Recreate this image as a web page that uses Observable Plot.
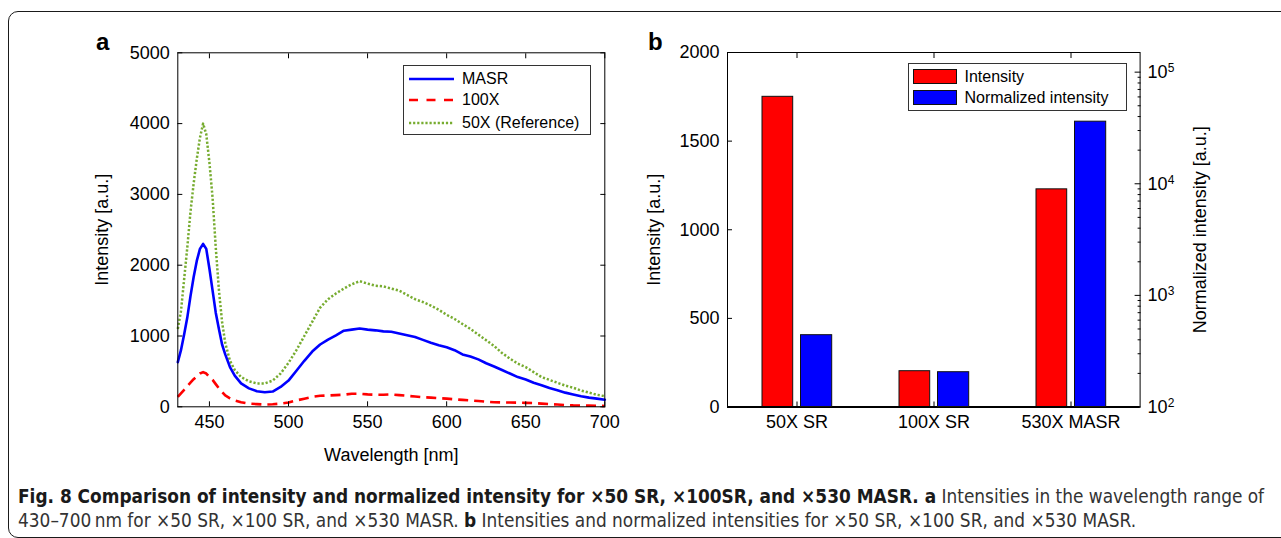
<!DOCTYPE html>
<html>
<head>
<meta charset="utf-8">
<script src="https://cdn.jsdelivr.net/npm/d3@7"></script>
<script src="https://cdn.jsdelivr.net/npm/@observablehq/plot@0.6"></script>
<style>
html,body{margin:0;padding:0;background:#fff;}
#root{position:relative;width:1281px;height:538px;overflow:hidden;font-family:"Liberation Sans",Arial,Helvetica,sans-serif;background:#fff;}
.layer{position:absolute;left:0;top:0;}
#border{position:absolute;left:8px;top:10.5px;width:1320px;height:527px;border:1.6px solid #1a1a1a;border-radius:10px;box-sizing:border-box;}
.panel-label{position:absolute;font-weight:bold;font-size:24px;line-height:1;color:#000;}
.legend{position:absolute;border:1.3px solid #333;background:#fff;box-sizing:border-box;}
.legend .row{position:absolute;left:0;height:20px;display:flex;align-items:center;font-size:16px;color:#000;white-space:nowrap;}
#caption{position:absolute;left:18px;top:484px;width:1260px;font-family:"Liberation Sans Narrow","DejaVu Sans Condensed",sans-serif;font-size:18px;line-height:24px;color:#333;white-space:nowrap;}
#caption b{color:#1a1a1a;}
</style>
</head>
<body>
<div id="root">
  <div id="border"></div>
  <div class="panel-label" style="left:96px;top:30px;">a</div>
  <div class="panel-label" style="left:648px;top:30px;">b</div>
  <div id="plotA" class="layer"></div>
  <div id="plotB1" class="layer"></div>
  <div id="plotB2" class="layer"></div>
  <div id="legendA" class="legend" style="left:403px;top:65px;width:188px;height:70px;"></div>
  <div id="legendB" class="legend" style="left:908px;top:62.5px;width:219px;height:48px;"></div>
  <div id="caption"><span id="cap1"><b>Fig. 8 Comparison of intensity and normalized intensity for ×50 SR, ×100SR, and ×530 MASR. a</b> Intensities in the wavelength range of</span><br><span id="cap2">430–700&#8201;nm for ×50 SR, ×100 SR, and ×530 MASR. <b>b</b> Intensities and normalized intensities for ×50 SR, ×100 SR, and ×530 MASR.</span></div>
</div>
<script>
// ---------- Panel a data ----------
const wavelength = [430,432,434,436,438,440,442,444,446,448,450,452,454,456,458,460,463,466,470,475,480,485,490,495,500,505,510,515,520,525,530,535,540,545,550,555,560,565,570,575,580,585,590,595,600,605,610,615,620,625,630,635,640,645,650,655,660,665,670,675,680,685,690,695,700];
const masr = [630,800,1020,1260,1560,1830,2060,2230,2300,2230,1950,1640,1330,1100,880,740,560,440,330,260,220,205,215,280,370,510,650,780,880,950,1010,1075,1090,1105,1090,1080,1065,1060,1035,1010,985,945,905,870,840,800,740,710,670,615,570,520,470,420,385,340,305,265,235,200,175,150,130,115,100];
const x100 = [140,190,240,290,340,390,430,470,490,470,420,380,320,260,210,160,120,90,65,45,38,32,35,45,60,90,115,140,155,160,165,170,185,185,175,170,170,175,165,155,145,135,130,122,115,105,98,90,82,72,65,62,60,58,56,52,45,38,32,25,20,18,16,14,12];
const x50ref = [1100,1350,1800,2250,2750,3150,3500,3800,4000,3850,3450,2950,2250,1650,1200,900,650,520,420,360,330,330,370,470,620,800,1000,1200,1400,1520,1600,1670,1730,1775,1740,1710,1700,1670,1640,1580,1520,1480,1430,1370,1300,1240,1170,1100,1020,940,860,760,680,610,560,490,420,380,340,300,270,230,200,170,150];
const seriesNames = ["MASR", "100X", "50X (Reference)"];
const seriesColors = ["#0000ff", "#ff0000", "#77ac30"];
const xTicksA = [450,500,550,600,650,700];
const yTicksA = [0,1000,2000,3000,4000,5000];

// ---------- Panel b data ----------
const categories = ["50X SR", "100X SR", "530X MASR"];
const intensity = [1750, 202, 1228];
const normalizedIntensity = [440, 205, 36000];
const barSeries = ["Intensity", "Normalized intensity"];
const barColors = ["#ff0000", "#0000ff"];
const yTicksBLeft = [0,500,1000,1500,2000];
const yTicksBRight = [100,1000,10000,100000];
const yTickLabelsBRight = ["10^2","10^3","10^4","10^5"];
const minorMultipliers = [2,3,4,5,6,7,8,9];

const fontFamily = '"Liberation Sans", Arial, Helvetica, sans-serif';
const baseStyle = {background: "transparent", fontSize: "18px", fontFamily, color: "#000", overflow: "visible"};
const dottedDash = "2.2,1.9";
const dashedDash = "10,6";

// ---------- Panel a ----------
const rowsA = wavelength.map((w, i) => ({w, masr: masr[i], x100: x100[i], ref: x50ref[i]}));
const plotA = Plot.plot({
  width: 640, height: 470,
  marginLeft: 177.3, marginRight: 35.7, marginTop: 52.3, marginBottom: 63.7,
  style: baseStyle,
  x: {domain: [430, 700]},
  y: {domain: [0, 5000]},
  marks: [
    Plot.line(rowsA, {x: "w", y: "ref", stroke: seriesColors[2], strokeWidth: 2.5, strokeDasharray: dottedDash, strokeLinecap: "butt"}),
    Plot.line(rowsA, {x: "w", y: "x100", stroke: seriesColors[1], strokeWidth: 2.6, strokeDasharray: dashedDash, strokeLinecap: "butt"}),
    Plot.line(rowsA, {x: "w", y: "masr", stroke: seriesColors[0], strokeWidth: 2.6}),
    Plot.frame({stroke: "#000", strokeWidth: 1}),
    Plot.axisX({ticks: xTicksA, tickFormat: "d", tickSize: -5, tickPadding: 13.5, label: "Wavelength [nm]", labelAnchor: "center", labelArrow: "none", labelOffset: 54}),
    Plot.axisX({anchor: "top", ticks: xTicksA, tickSize: -5, fill: "none", label: null}),
    Plot.axisY({ticks: yTicksA, tickFormat: "d", tickSize: -5, tickPadding: 13, label: "Intensity [a.u.]", labelAnchor: "center", labelArrow: "none", labelOffset: 83}),
    Plot.axisY({anchor: "right", ticks: yTicksA, tickSize: -5, fill: "none", label: null})
  ]
});
document.getElementById("plotA").append(plotA);

// ---------- Panel b (left linear axis, red bars) ----------
const rowsB = categories.map((c, i) => ({cat: c, intensity: intensity[i], norm: normalizedIntensity[i]}));
const commonB = {
  width: 1281, height: 470,
  marginLeft: 727, marginRight: 141.4, marginTop: 52, marginBottom: 63.5,
  style: baseStyle
};
const plotB1 = Plot.plot({
  ...commonB,
  x: {type: "band", domain: categories, padding: 0, label: null},
  y: {domain: [0, 2000]},
  marks: [
    Plot.barY(rowsB, {x: "cat", y: "intensity", fill: barColors[0], stroke: "#111", strokeWidth: 1, insetLeft: 34, insetRight: 72.3}),
    Plot.frame({stroke: "#000", strokeWidth: 1}),
    Plot.ruleY([0], {stroke: "#000", strokeWidth: 2}),
    Plot.axisX({tickSize: -5, tickPadding: 13.5, label: null}),
    Plot.axisX({anchor: "top", tickSize: -5, fill: "none", label: null}),
    Plot.axisY({ticks: yTicksBLeft, tickFormat: "d", tickSize: -5, tickPadding: 13, label: "Intensity [a.u.]", labelAnchor: "center", labelArrow: "none", labelOffset: 80})
  ]
});
document.getElementById("plotB1").append(plotB1);

// ---------- Panel b overlay (right log axis, blue bars) ----------
const minorTicks = yTicksBRight.slice(0, -1).flatMap(d => minorMultipliers.map(m => d * m));
const plotB2 = Plot.plot({
  ...commonB,
  x: {type: "band", domain: categories, padding: 0, label: null, axis: null},
  y: {type: "log", domain: [yTicksBRight[0], 1.5e5]},
  marks: [
    Plot.barY(rowsB, {x: "cat", y1: yTicksBRight[0], y2: "norm", fill: barColors[1], stroke: "#111", strokeWidth: 1, insetLeft: 72.5, insetRight: 33.3}),
    Plot.axisY({anchor: "right", ticks: minorTicks, tickSize: -3, fill: "none", label: null}),
    Plot.axisY({anchor: "right", ticks: yTicksBRight, tickFormat: (d) => yTickLabelsBRight[yTicksBRight.indexOf(d)], tickSize: -6, tickPadding: 13.5, label: "Normalized intensity [a.u.]", labelAnchor: "center", labelArrow: "none", labelOffset: 66})
  ]
});
document.getElementById("plotB2").append(plotB2);
// render exponents as superscripts
plotB2.querySelectorAll("text").forEach(t => {
  const m = /^10\^(\d+)$/.exec(t.textContent);
  if (m) {
    t.textContent = "10";
    const ts = document.createElementNS("http://www.w3.org/2000/svg", "tspan");
    ts.setAttribute("dy", "-0.5em");
    ts.setAttribute("font-size", "12px");
    ts.textContent = m[1];
    t.appendChild(ts);
  }
});

// ---------- Legends ----------
function lineSwatch(color, dash) {
  return `<svg width="46" height="10" style="margin-left:5px;margin-right:7px;overflow:visible"><line x1="0" x2="45" y1="5" y2="5" stroke="${color}" stroke-width="2.5" stroke-linecap="butt" ${dash ? `stroke-dasharray="${dash}"` : ""}/></svg>`;
}
const legA = document.getElementById("legendA");
const legendDashes = [null, "9,8.5", dottedDash];
const rowTopsA = [2.5, 24, 46.5];
seriesNames.forEach((name, i) => {
  const r = document.createElement("div");
  r.className = "row";
  r.style.top = rowTopsA[i] + "px";
  r.innerHTML = lineSwatch(seriesColors[i], legendDashes[i]) + `<span>${name}</span>`;
  legA.appendChild(r);
});
const legB = document.getElementById("legendB");
const rowTopsB = [3, 24];
barSeries.forEach((name, i) => {
  const r = document.createElement("div");
  r.className = "row";
  r.style.top = rowTopsB[i] + "px";
  r.innerHTML = `<span style="display:inline-block;width:44px;height:15px;background:${barColors[i]};border:1px solid #111;box-sizing:border-box;margin-left:3.5px;margin-right:8px"></span><span>${name}</span>`;
  legB.appendChild(r);
});

// ---------- caption fit ----------
const cap1 = document.getElementById("cap1");
const w1 = cap1.getBoundingClientRect().width;
const target = 1247;
const cap = document.getElementById("caption");
cap.style.fontSize = Math.max(14, Math.min(22, 18 * target / w1)) + "px";
</script>
</body>
</html>
